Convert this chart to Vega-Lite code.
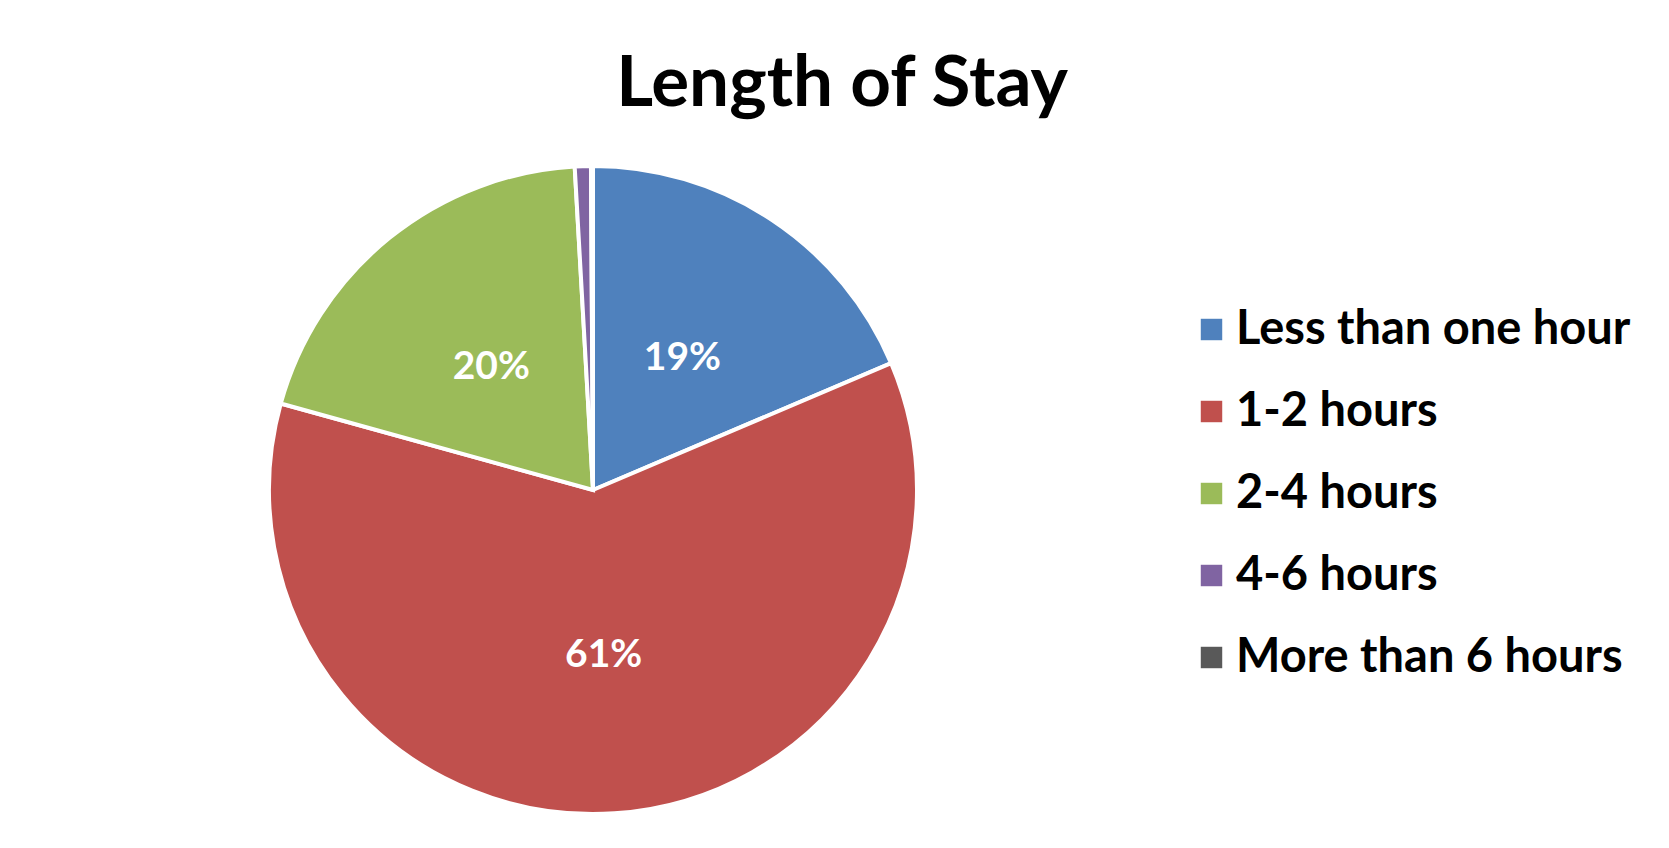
{
  "$schema": "https://vega.github.io/schema/vega-lite/v6.json",
  "width": 648,
  "height": 648,
  "autosize": {"type": "none"},
  "padding": {"left": 269, "top": 166, "right": 752, "bottom": 34},
  "background": "white",
  "title": {
    "text": "Length of Stay",
    "font": "Lato",
    "fontSize": 71,
    "fontWeight": "bold",
    "color": "black",
    "anchor": "middle",
    "frame": "group",
    "dx": 249,
    "offset": 37
  },
  "data": {
    "values": [
      {"category": "Less than one hour", "value": 0.186, "order": 1},
      {"category": "1-2 hours", "value": 0.607, "order": 2},
      {"category": "2-4 hours", "value": 0.198, "order": 3},
      {"category": "4-6 hours", "value": 0.008, "order": 4},
      {"category": "More than 6 hours", "value": 0.001, "order": 5}
    ]
  },
  "encoding": {
    "theta": {"field": "value", "type": "quantitative", "stack": true},
    "order": {"field": "order", "type": "quantitative"}
  },
  "layer": [
    {
      "mark": {"type": "arc", "outerRadius": 324, "stroke": "white", "strokeWidth": 4},
      "encoding": {
        "color": {
          "field": "category",
          "type": "nominal",
          "sort": ["Less than one hour", "1-2 hours", "2-4 hours", "4-6 hours", "More than 6 hours"],
          "scale": {
            "domain": ["Less than one hour", "1-2 hours", "2-4 hours", "4-6 hours", "More than 6 hours"],
            "range": ["#4F81BD", "#C0504D", "#9BBB59", "#8064A2", "#595959"]
          },
          "legend": {
            "title": null,
            "orient": "none",
            "legendX": 919,
            "legendY": 140,
            "padding": 0,
            "symbolType": "square",
            "symbolSize": 460,
            "symbolStrokeWidth": 0,
            "symbolOpacity": 1,
            "labelFont": "Lato",
            "labelFontSize": 47,
            "labelFontWeight": "bold",
            "labelColor": "black",
            "labelOffset": 1,
            "labelLimit": 600,
            "rowPadding": 34
          }
        }
      }
    },
    {
      "transform": [{"filter": "datum.value >= 0.01"}],
      "mark": {"type": "text", "radius": 162, "dy": 3, "font": "Lato", "fontSize": 39, "fontWeight": "bold", "color": "white"},
      "encoding": {
        "text": {"field": "value", "type": "quantitative", "format": ".0%"}
      }
    }
  ]
}
